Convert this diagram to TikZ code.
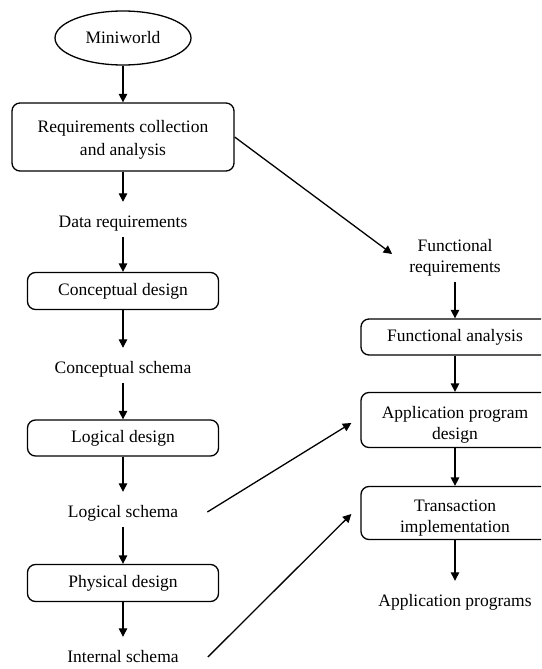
\documentclass[tikz,border=0pt]{standalone}
\usepackage{fontspec}
\setmainfont{Liberation Serif}
\usetikzlibrary{arrows.meta,shapes.geometric,calc}
\newcommand{\topstrut}[1]{\rule{0pt}{#1}}
\begin{document}
\begin{tikzpicture}[x=1pt,y=-1pt,
  every node/.style={font=\fontsize{17.5}{21}\selectfont},
  stepbox/.style={draw, rounded corners=8pt, line width=1.3pt, align=center, inner sep=0pt},
  plain/.style={inner sep=3pt, text height=22pt, text depth=7pt, anchor=base},
  arr/.style={-{Triangle[length=8.5pt,width=8.5pt]}, line width=1.3pt},
]
\useasboundingbox (0,0) rectangle (541,669);
\clip (0,0) rectangle (541,669);

% database design column
\node[draw, ellipse, line width=1.3pt, minimum width=136pt, minimum height=54pt, inner sep=0pt] (mw) at (123,38) {Miniworld};
\node[stepbox, minimum width=222pt, minimum height=68pt, font=\fontsize{17.5}{23}\selectfont] (req) at (123,137) {\topstrut{18pt}Requirements collection\\and analysis};
\node[plain] (dr) at (123,227) {Data requirements};
\node[stepbox, minimum width=191pt, minimum height=37pt] (cd) at (123,291) {Conceptual design};
\node[plain] (cs) at (123,373) {Conceptual schema};
\node[stepbox, minimum width=191pt, minimum height=36pt] (ld) at (123,438) {Logical design};
\node[plain] (ls) at (123,517) {Logical schema};
\node[stepbox, minimum width=191pt, minimum height=37pt] (pd) at (123,583) {Physical design};
\node[plain] (is) at (123,662) {Internal schema};

% application design column
\node[inner sep=5pt, align=center] (fr) at (455,258) {Functional\\requirements};
\node[stepbox, minimum width=188pt, minimum height=36pt] (fa) at (455,337) {Functional analysis};
\node[stepbox, minimum width=188pt, minimum height=55pt] (apd) at (455,420) {\topstrut{21pt}Application program\\design};
\node[stepbox, minimum width=188pt, minimum height=53pt] (ti) at (455,513) {\topstrut{21pt}Transaction\\implementation};
\node[plain] (ap) at (455,606) {Application programs};

% vertical flow
\draw[arr] (mw.south) -- (req.north);
\draw[arr] (req.south) -- (dr.north);
\draw[arr] (dr.south) -- (cd.north);
\draw[arr] (cd.south) -- (cs.north);
\draw[arr] (cs.south) -- (ld.north);
\draw[arr] (ld.south) -- (ls.north);
\draw[arr] (ls.south) -- (pd.north);
\draw[arr] (pd.south) -- (is.north);

\draw[arr] (fr.south) -- (fa.north);
\draw[arr] (fa.south) -- (apd.north);
\draw[arr] (apd.south) -- (ti.north);
\draw[arr] (ti.south) -- (ap.north);

% cross links
\draw[arr] (req.east) -- ($(fr.west)+(-12,-4)$);
\draw[arr] ($(ls.base east)+(26,-5)$) -- ($(apd.west)+(-9,3)$);
\draw[arr] ($(is.base east)+(26,-5)$) -- ($(ti.west)+(-9,1)$);
\end{tikzpicture}
\end{document}
